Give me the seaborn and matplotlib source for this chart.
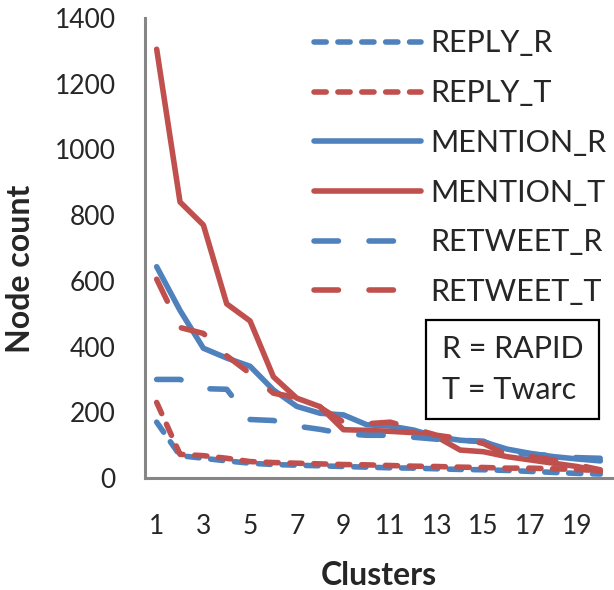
import matplotlib
matplotlib.use("Agg")
import matplotlib.pyplot as plt
import seaborn as sns
import numpy as np

clusters = list(range(1, 21))
reply_r = [170, 68, 60, 52, 45, 41, 39, 37, 35, 33, 31, 30, 28, 26, 25, 23, 20, 17, 14, 12]
reply_t = [230, 72, 68, 60, 50, 47, 45, 43, 41, 40, 38, 36, 35, 33, 32, 30, 30, 28, 26, 22]
mention_r = [643, 510, 395, 365, 340, 268, 218, 197, 192, 162, 158, 146, 125, 115, 110, 88, 75, 65, 58, 52]
mention_t = [1305, 840, 770, 530, 478, 308, 243, 217, 147, 145, 142, 138, 125, 85, 80, 65, 55, 45, 35, 20]
retweet_r = [300, 300, 272, 270, 178, 175, 158, 148, 135, 130, 130, 124, 118, 115, 112, 78, 72, 68, 62, 60]
retweet_t = [605, 458, 440, 372, 318, 258, 245, 215, 170, 165, 170, 150, 130, 120, 105, 70, 65, 55, 40, 25]
series_names = ["REPLY_R", "REPLY_T", "MENTION_R", "MENTION_T", "RETWEET_R", "RETWEET_T"]
y_ticks = [0, 200, 400, 600, 800, 1000, 1200, 1400]
x_tick_labels = [1, 3, 5, 7, 9, 11, 13, 15, 17, 19]

BLUE = "#4F81BD"
RED = "#C0504D"
GRAY = "#868686"

sns.set_style("white")
plt.rcParams["font.family"] = ["Lato", "DejaVu Sans"]

fig = plt.figure(figsize=(6.14, 5.90), dpi=100)
ax = fig.add_axes([145/614, 1-478/590, (612-145)/614, (478-18)/590])

short = (0, (2.2, 2.1))
long_ = (0, (4.4, 5.5))
styles = [
    (reply_r, BLUE, short),
    (reply_t, RED, short),
    (mention_r, BLUE, "-"),
    (mention_t, RED, "-"),
    (retweet_r, BLUE, long_),
    (retweet_t, RED, long_),
]
LW = 4.0
for name, (vals, col, ls) in zip(series_names, styles):
    sns.lineplot(x=clusters, y=vals, ax=ax, color=col, linestyle=ls, linewidth=LW,
                 label=name, dash_capstyle="round", solid_capstyle="round",
                 solid_joinstyle="round", dash_joinstyle="round")

ax.set_xlim(0.5, 20.5)
ax.set_ylim(0, 1400)
ax.set_yticks(y_ticks)
ax.set_yticklabels([str(v) for v in y_ticks], fontsize=19)
ax.set_xticks(x_tick_labels)
ax.set_xticklabels([str(v) for v in x_tick_labels], fontsize=19)
ax.set_xticks(np.arange(0.5, 21, 1.0), minor=True)
ax.tick_params(axis="x", which="major", length=0, pad=26)
ax.tick_params(axis="x", which="minor", length=6, width=2.2, color=GRAY, direction="out")
ax.tick_params(axis="y", which="major", length=8, width=2.2, color=GRAY, direction="out", pad=13)

for s in ["top", "right"]:
    ax.spines[s].set_visible(False)
for s in ["left", "bottom"]:
    ax.spines[s].set_color(GRAY)
    ax.spines[s].set_linewidth(2.2)

ax.set_xlabel("Clusters", fontsize=23, fontweight="bold")
ax.set_ylabel("Node count", fontsize=23, fontweight="bold")
ax.xaxis.set_label_coords(0.5, -0.18)
ax.yaxis.set_label_coords(-0.236, 0.455)

ax.legend(loc="upper left", bbox_to_anchor=(0.362, 0.975), frameon=False,
          fontsize=22, handlelength=3.5, handletextpad=0.3, labelspacing=0.71,
          borderpad=0, borderaxespad=0)

ax.text(0.787, 0.236, "R = RAPID\nT = Twarc", transform=ax.transAxes,
        ha="center", va="center", multialignment="left", fontsize=22, linespacing=1.55,
        bbox=dict(boxstyle="square,pad=0.5", facecolor="white", edgecolor="black", linewidth=1.6))

fig.savefig("out.png", dpi=100, facecolor="white")
